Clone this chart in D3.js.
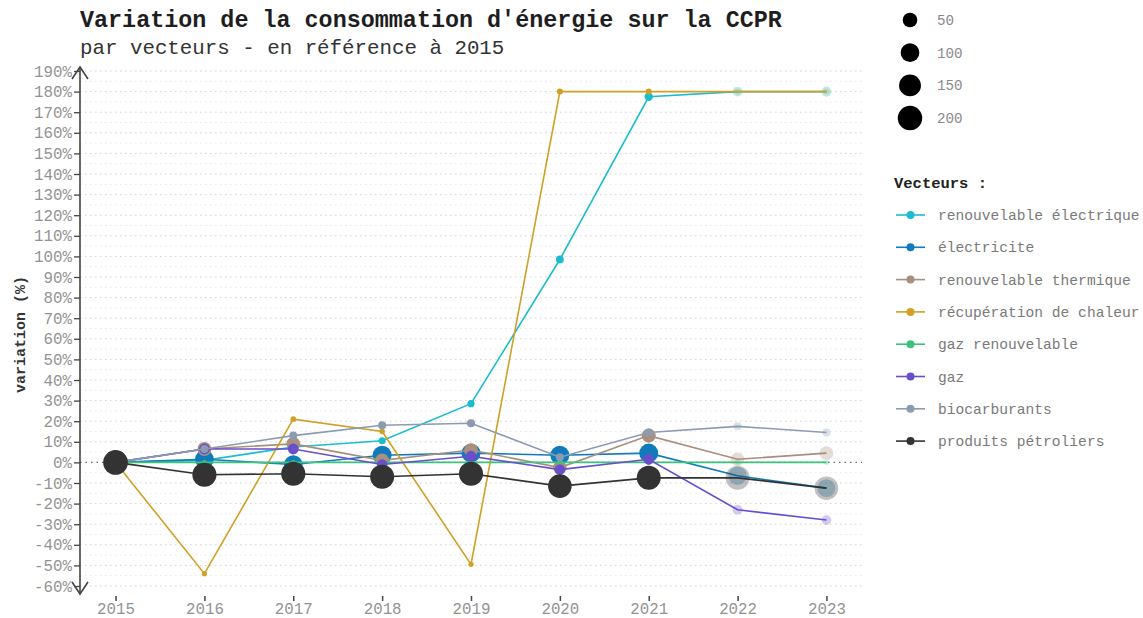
<!DOCTYPE html>
<html><head><meta charset="utf-8">
<script src="https://cdn.jsdelivr.net/npm/d3@7"></script>
<style>
html,body{margin:0;padding:0;background:#fff;}
svg{display:block;}
text{font-family:"Liberation Mono","DejaVu Sans Mono",monospace;}
</style></head>
<body>
<svg id="chart" width="1143" height="618"></svg>
<script>
// ---------- DATA ----------
const years = [2015, 2016, 2017, 2018, 2019, 2020, 2021, 2022, 2023];
const seriesNames = ["renouvelable électrique", "électricite", "renouvelable thermique", "récupération de chaleur", "gaz renouvelable", "gaz", "biocarburants", "produits pétroliers"];
const seriesColors = ["#1cbccd", "#0f7bbb", "#a98f7d", "#cfa126", "#3cc27c", "#6a4fca", "#8b9cb2", "#333333"];
const yTicks = [190,180,170,160,150,140,130,120,110,100,90,80,70,60,50,40,30,20,10,0,-10,-20,-30,-40,-50,-60];
const sizeLegendValues = [50, 100, 150, 200];

// variation (%) by series
const varRenouvElec   = [0, 1, 7.5, 10.5, 28.5, 98.5, 177.5, 180, 180];
const varElectricite  = [0, 1.5, -1, 3.5, 4.5, 3.5, 4.5, -6.5, -12.5];
const varRenouvTherm  = [0, 6.5, 9, 1, 6, -2.5, 13, 1.5, 4.5];
const varRecupChaleur = [0, -54, 21, 15, -49.5, 180, 180, 180, 180];
const varGazRenouv    = [0, 0, 0, 0, 0, 0, 0, 0, 0];
const varGaz          = [0, 6.5, 6.5, -1, 3, -3.5, 1.5, -23, -28];
const varBiocarb      = [0, 6.5, 13, 18, 19, 2.5, 14.5, 17.5, 14.5];
const varPetrol       = [0, -6, -5.5, -7, -5.5, -11.5, -7.5, -7.5, -12.5];

// consumption (point size) by series
const sizeRenouvElec   = [2.5, 2.5, 2.7, 2.8, 3.2, 5, 7, 14, 15];
const sizeElectricite  = [100, 101, 98, 104, 104, 104, 105, 93, 88];
const sizeRenouvTherm  = [40, 42.5, 43.5, 40.5, 42.5, 39, 45, 40.5, 42];
const sizeRecupChaleur = [0.3, 0.14, 0.36, 0.35, 0.15, 1, 1, 1, 1];
const sizeGazRenouv    = [0, 0, 0, 0, 0, 0, 0, 0, 0];
const sizeGaz          = [18, 19, 19, 18, 18.5, 17.5, 18.3, 14, 13];
const sizeBiocarb      = [5, 5.3, 5.6, 5.9, 6, 5.1, 5.7, 5.9, 5.7];
const sizePetrol       = [205, 193, 194, 191, 194, 182, 190, 190, 180];

const estimatedYears = [2022, 2023];

const variations = [varRenouvElec, varElectricite, varRenouvTherm, varRecupChaleur, varGazRenouv, varGaz, varBiocarb, varPetrol];
const sizes = [sizeRenouvElec, sizeElectricite, sizeRenouvTherm, sizeRecupChaleur, sizeGazRenouv, sizeGaz, sizeBiocarb, sizePetrol];

const series = seriesNames.map((name, i) => ({
  name, color: seriesColors[i],
  values: years.map((yr, j) => ({year: yr, v: variations[i][j], s: sizes[i][j]}))
}));

// ---------- CHART ----------
const svg = d3.select("#chart");
const pLeft = 80, pRight = 862, pTop = 71, pBottom = 586;

const x = d3.scalePoint().domain(years).range([pLeft, pRight]).padding(0.4);
const y = d3.scaleLinear().domain([-60, 190]).range([pBottom, pTop]);
const r = d3.scaleSqrt().domain([0, 200]).range([2.35, 12.25]);

// titles
svg.append("text").attr("x", 80).attr("y", 27)
  .attr("font-size", 23.4).attr("font-weight", "bold").attr("fill", "#1e1e1e")
  .text("Variation de la consommation d'énergie sur la CCPR");
svg.append("text").attr("x", 80).attr("y", 54)
  .attr("font-size", 20.8).attr("fill", "#333")
  .text("par vecteurs - en référence à 2015");

// minor grid
const minor = d3.range(-55, 190, 10);
svg.append("g").selectAll("line").data(minor).join("line")
  .attr("x1", pLeft).attr("x2", pRight)
  .attr("y1", d => y(d)).attr("y2", d => y(d))
  .attr("stroke", "#e8e8e8").attr("stroke-width", 1).attr("stroke-dasharray", "1.5,3.5");

// major grid
svg.append("g").selectAll("line").data(yTicks.filter(d => d !== 0)).join("line")
  .attr("x1", pLeft).attr("x2", pRight)
  .attr("y1", d => y(d)).attr("y2", d => y(d))
  .attr("stroke", "#d2d2d2").attr("stroke-width", 1).attr("stroke-dasharray", "1.5,3.5");

// zero line
svg.append("line").attr("x1", pLeft).attr("x2", pRight)
  .attr("y1", y(0)).attr("y2", y(0))
  .attr("stroke", "#666").attr("stroke-width", 1.2).attr("stroke-dasharray", "1.5,4");

// y axis
const yAxis = d3.axisLeft(y).tickValues(yTicks).tickFormat(d => d + "%").tickSize(6).tickPadding(2);
const gy = svg.append("g").attr("transform", `translate(${pLeft},0)`).call(yAxis);
gy.select(".domain").remove();
gy.selectAll(".tick line").attr("stroke", "#444").attr("stroke-width", 1.3);
gy.selectAll(".tick text").attr("font-size", 15.8).attr("fill", "#939393")
  .attr("font-family", "'Liberation Mono', monospace");

// axis line with arrows
svg.append("line").attr("x1", pLeft).attr("x2", pLeft).attr("y1", 67).attr("y2", 594)
  .attr("stroke", "#444").attr("stroke-width", 1.6);
svg.append("path").attr("d", `M${pLeft-8},79 L${pLeft},67 L${pLeft+8},79`)
  .attr("fill", "none").attr("stroke", "#444").attr("stroke-width", 1.6);
svg.append("path").attr("d", `M${pLeft-8},582 L${pLeft},594 L${pLeft+8},582`)
  .attr("fill", "none").attr("stroke", "#444").attr("stroke-width", 1.6);

// y axis title
svg.append("text").attr("transform", `translate(25,${(pTop+pBottom)/2 + 6}) rotate(-90)`)
  .attr("text-anchor", "middle").attr("font-size", 15).attr("font-weight", "bold").attr("fill", "#333")
  .text("variation (%)");

// x axis
const xAxis = d3.axisBottom(x).tickSize(5).tickPadding(2);
const gx = svg.append("g").attr("transform", `translate(0,596)`).call(xAxis);
gx.select(".domain").remove();
gx.selectAll(".tick line").attr("stroke", "#444").attr("stroke-width", 1.5);
gx.selectAll(".tick text").attr("font-size", 15.8).attr("fill", "#939393")
  .attr("font-family", "'Liberation Mono', monospace");

// lines
const line = d3.line().x(d => x(d.year)).y(d => y(d.v));
const gData = svg.append("g");
series.forEach(s => {
  const g = gData.append("g");
  g.append("path").datum(s.values).attr("d", line)
    .attr("fill", "none").attr("stroke", s.color).attr("stroke-width", 1.6);
  g.selectAll("circle").data(s.values).join("circle")
    .attr("cx", d => x(d.year)).attr("cy", d => y(d.v)).attr("r", d => r(d.s))
    .attr("fill", s.color)
    .attr("fill-opacity", d => estimatedYears.includes(d.year) ? 0.3 : 1);
});

// size legend
const sl = svg.append("g");
sizeLegendValues.forEach((v, i) => {
  const cy = 20 + i * 32.7;
  sl.append("circle").attr("cx", 910).attr("cy", cy).attr("r", r(v)).attr("fill", "#000");
  sl.append("text").attr("x", 937).attr("y", cy + 5).attr("font-size", 14.2).attr("fill", "#8a8a8a").text(v);
});

// color legend
const cl = svg.append("g");
cl.append("text").attr("x", 894).attr("y", 188).attr("font-size", 15.5).attr("font-weight", "bold")
  .attr("fill", "#222").text("Vecteurs :");
series.forEach((s, i) => {
  const cy = 215 + i * 32.3;
  cl.append("line").attr("x1", 896).attr("x2", 925).attr("y1", cy).attr("y2", cy)
    .attr("stroke", s.color).attr("stroke-width", 1.6);
  cl.append("circle").attr("cx", 910.5).attr("cy", cy).attr("r", 4).attr("fill", s.color);
  cl.append("text").attr("x", 938).attr("y", cy + 5).attr("font-size", 14.6).attr("fill", "#7a7a7a").text(s.name);
});
</script>
</body></html>
